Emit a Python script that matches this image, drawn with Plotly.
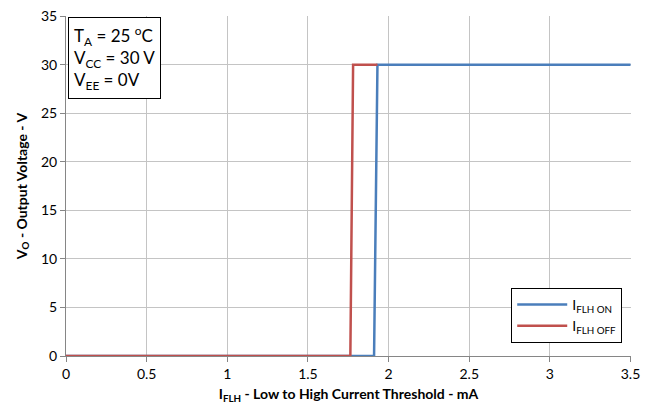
import plotly.graph_objects as go

on_x = [0, 1.910, 1.931, 3.5]
on_y = [0, 0, 30, 30]
off_x = [0, 1.763, 1.780, 1.931]
off_y = [0, 0, 30, 30]

x_ticks = [0, 0.5, 1, 1.5, 2, 2.5, 3, 3.5]
x_labels = ["0", "0.5", "1", "1.5", "2", "2.5", "3", "3.5"]
y_ticks = [0, 5, 10, 15, 20, 25, 30, 35]
y_labels = ["0", "5", "10", "15", "20", "25", "30", "35"]

FONT = "Lato, Open Sans, sans-serif"

fig = go.Figure()
fig.add_trace(go.Scatter(x=on_x, y=on_y, mode="lines", name="I<sub>FLH ON</sub>",
                         line=dict(color="#4a7ebb", width=2.5)))
fig.add_trace(go.Scatter(x=off_x, y=off_y, mode="lines", name="I<sub>FLH OFF</sub>",
                         line=dict(color="#c0504d", width=2.5)))

fig.update_layout(
    width=644, height=406,
    margin=dict(l=58, r=21, t=8, b=58),
    paper_bgcolor="white", plot_bgcolor="white",
    font=dict(family=FONT, size=14, color="black"),
    showlegend=True,
    legend=dict(x=0.788, y=0.2, xanchor="left", yanchor="top",
                bordercolor="black", borderwidth=1, bgcolor="white",
                font=dict(size=14), tracegroupgap=4, itemwidth=50),
    xaxis=dict(range=[0, 3.503], tickvals=x_ticks, ticktext=x_labels,
               showgrid=True, gridcolor="#c4c4c4", gridwidth=1,
               showline=True, linecolor="#868686", linewidth=1,
               ticks="outside", ticklen=5, tickcolor="#868686",
               zeroline=False, mirror=False, ticklabeloverflow="allow",
               automargin=False,
               title=dict(text="<b>I<sub>FLH</sub> - Low to High Current Threshold - mA</b>",
                          font=dict(size=14), standoff=8)),
    yaxis=dict(range=[0, 35.03], tickvals=y_ticks, ticktext=y_labels,
               showgrid=True, gridcolor="#c4c4c4", gridwidth=1,
               showline=True, linecolor="#868686", linewidth=1,
               ticks="outside", ticklen=5, tickcolor="#868686",
               zeroline=False, ticklabeloverflow="allow",
               automargin=False,
               title=dict(text="<b>V<sub>O</sub> - Output Voltage - V</b>",
                          font=dict(size=14), standoff=10)),
)

fig.add_annotation(
    xref="paper", yref="paper", x=0.004, y=0.997, xanchor="left", yanchor="top",
    text="T<sub>A</sub> = 25 <sup>o</sup>C<br>V<sub>CC</sub> = 30 V<br>V<sub>EE</sub> = 0V",
    align="left", showarrow=False, font=dict(size=17),
    bordercolor="black", borderwidth=1, bgcolor="white", borderpad=5,
)

fig.write_html("out.html")
